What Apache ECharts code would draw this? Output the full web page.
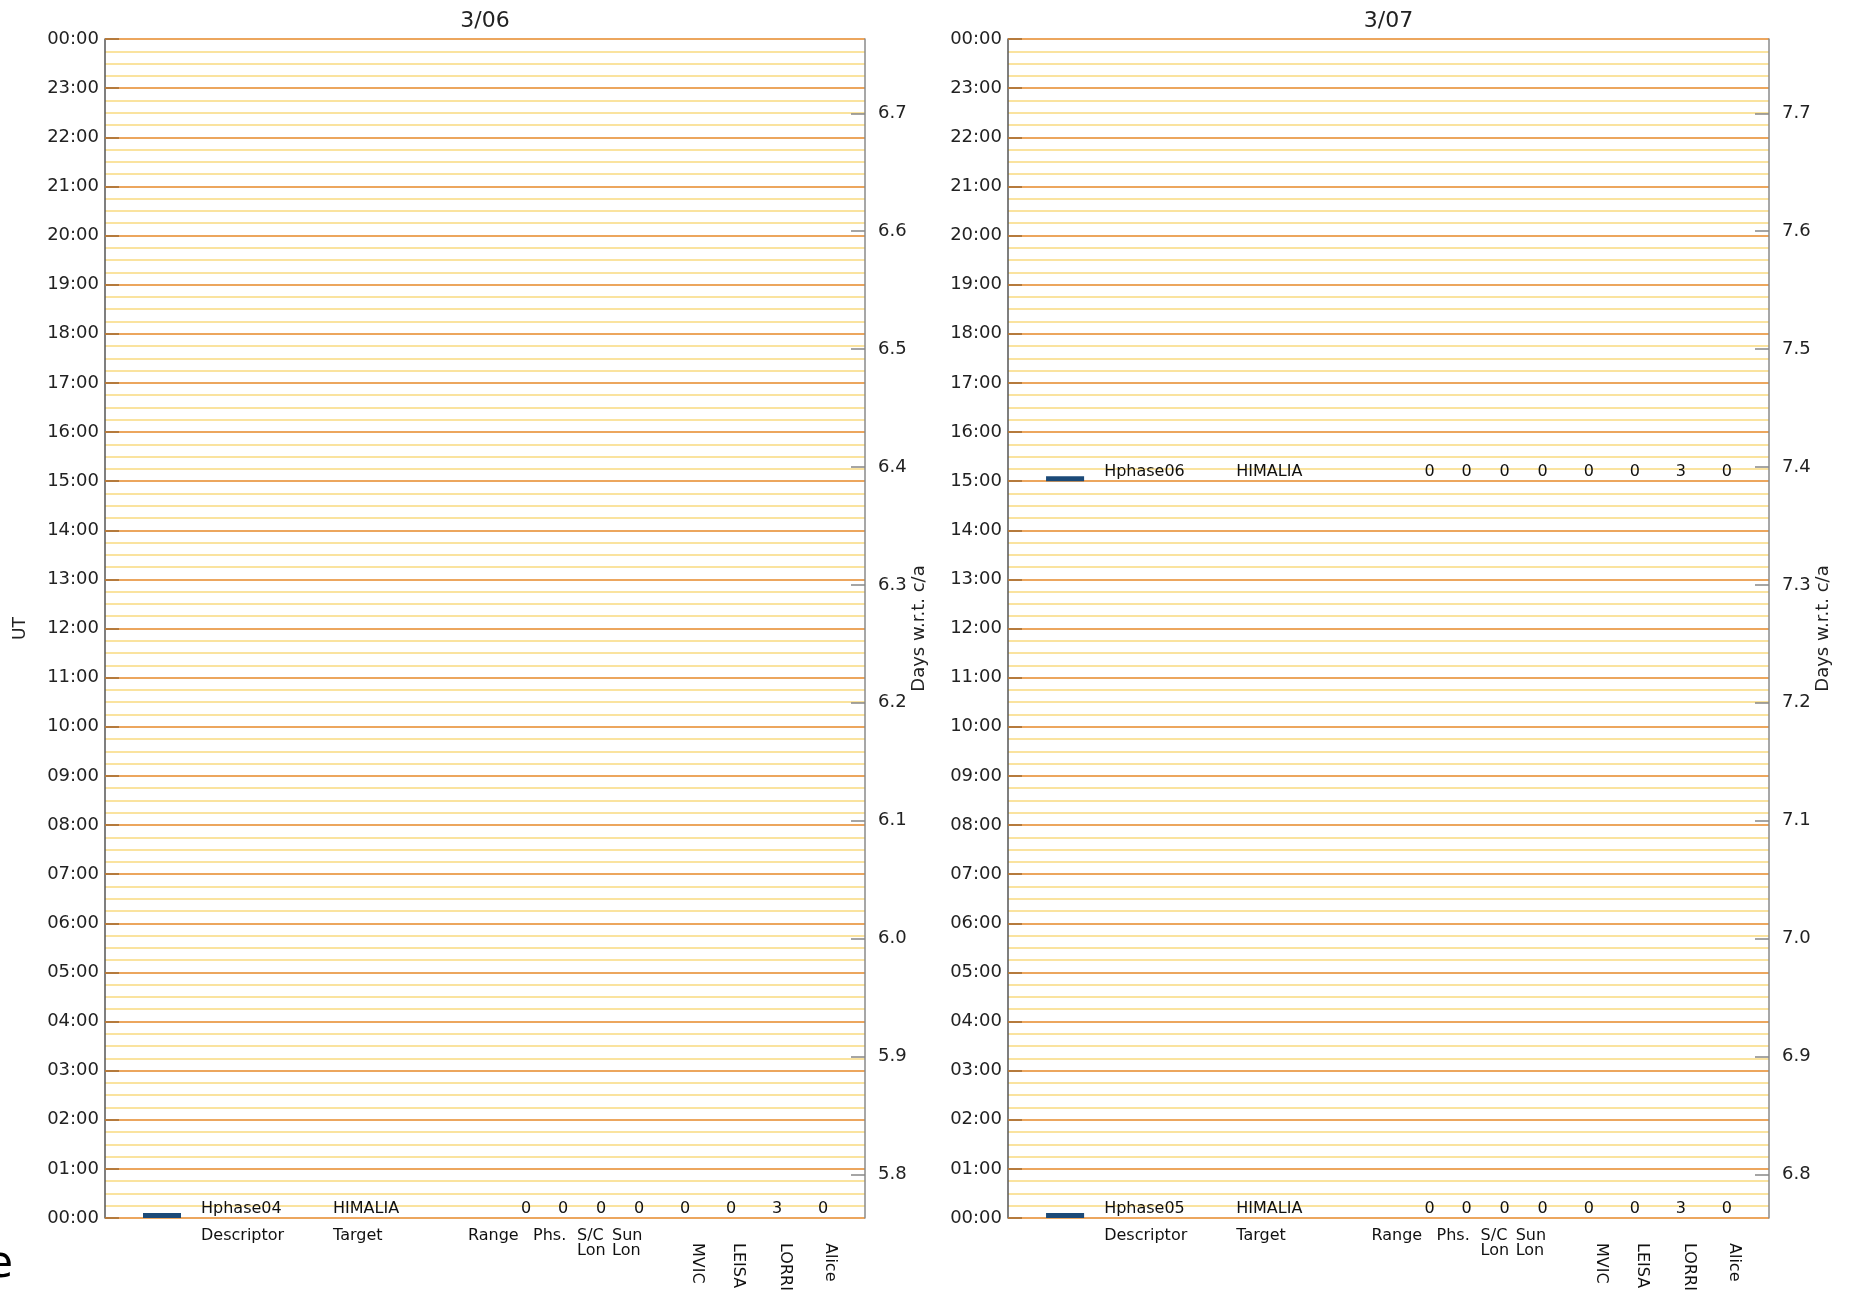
<!DOCTYPE html>
<html>
<head>
<meta charset="utf-8">
<script src="https://cdn.jsdelivr.net/npm/echarts@6/dist/echarts.min.js"></script>
<style>
  html, body { margin: 0; padding: 0; background: #fff; }
  #chart { width: 1849px; height: 1295px; }
</style>
</head>
<body>
<div id="chart"></div>
<script>
// one panel per UT day
const panelDates = ['3/06', '3/07']
// days w.r.t. closest approach at 00:00 UT of each panel
const dayAtStart = [5.763, 6.763]
const dayTicks = [
  [5.8, 5.9, 6.0, 6.1, 6.2, 6.3, 6.4, 6.5, 6.6, 6.7],
  [6.8, 6.9, 7.0, 7.1, 7.2, 7.3, 7.4, 7.5, 7.6, 7.7]
]

// table columns (x in column units across the panel, 0..760)
const headers = ['Descriptor', 'Target', 'Range', 'Phs.', 'S/C\nLon', 'Sun\nLon']
const headerX = [96, 228, 363, 428, 472, 507]
const instruments = ['MVIC', 'LEISA', 'LORRI', 'Alice']
const instrumentX = [592, 633, 680, 725]
const valueX = [421, 458, 496, 534, 580, 626, 672, 718]
const barX = [38, 76]

// observations
const obsPanel = [0, 1, 1]
const obsTime = [0, 0, 15]
const obsDuration = [0.1, 0.1, 0.1]
const obsDescriptor = ['Hphase04', 'Hphase05', 'Hphase06']
const obsTarget = ['HIMALIA', 'HIMALIA', 'HIMALIA']
const obsValues = [
  [0, 0, 0, 0, 0, 0, 3, 0],
  [0, 0, 0, 0, 0, 0, 3, 0],
  [0, 0, 0, 0, 0, 0, 3, 0]
]

const gridPos = [
  { left: 105, width: 760 },
  { left: 1008, width: 761 }
]
const FONT = 'DejaVu Sans, sans-serif'

function pad(n) {
  return (n < 10 ? '0' : '') + n
}

const chart = echarts.init(document.getElementById('chart'), null, { renderer: 'canvas' })

const grid = []
const xAxis = []
const yAxis = []
const series = []
const title = []

panelDates.forEach((date, p) => {
  grid.push({ left: gridPos[p].left, width: gridPos[p].width, top: 39, height: 1179 })

  title.push({
    text: date,
    left: gridPos[p].left + gridPos[p].width / 2,
    top: 10,
    padding: 0,
    textAlign: 'center',
    textStyle: { fontFamily: FONT, fontSize: 22, fontWeight: 'normal', color: '#222' }
  })

  // horizontal column headers
  xAxis.push({
    type: 'value', gridIndex: p, min: 0, max: 760, position: 'bottom',
    axisLine: { show: false, onZero: false }, axisTick: { show: false }, splitLine: { show: false },
    axisLabel: {
      customValues: headerX,
      formatter: (v) => headers[headerX.indexOf(v)] || '',
      align: 'left', verticalAlign: 'top', margin: 10, lineHeight: 15,
      fontFamily: FONT, fontSize: 16, color: '#111'
    }
  })
  // rotated instrument headers
  xAxis.push({
    type: 'value', gridIndex: p, min: 0, max: 760, position: 'bottom',
    axisLine: { show: false, onZero: false }, axisTick: { show: false }, splitLine: { show: false },
    axisLabel: {
      customValues: instrumentX,
      formatter: (v) => instruments[instrumentX.indexOf(v)] || '',
      rotate: -90, margin: 25,
      fontFamily: FONT, fontSize: 16, color: '#111'
    }
  })

  // UT hours
  yAxis.push({
    type: 'value', gridIndex: p, min: 0, max: 24, interval: 1, position: 'left',
    name: p === 0 ? 'UT' : '', nameLocation: 'middle', nameGap: 76, nameRotate: 90,
    nameTextStyle: { fontFamily: FONT, fontSize: 17, color: '#222' },
    axisLine: { show: true, onZero: false, lineStyle: { color: '#555', width: 1.5 } },
    axisTick: { show: true, inside: true, length: 14, lineStyle: { color: '#b57a3c', width: 2 } },
    axisLabel: {
      margin: 6, fontFamily: FONT, fontSize: 18, color: '#222',
      formatter: (v) => pad(v % 24) + ':00'
    },
    splitLine: { show: true, lineStyle: { color: '#eca65e', width: 2 } },
    minorTick: { show: false, splitNumber: 4 },
    minorSplitLine: { show: true, lineStyle: { color: '#f9da80', width: 1.5 } }
  })

  // days w.r.t. closest approach
  yAxis.push({
    type: 'value', gridIndex: p, min: dayAtStart[p], max: dayAtStart[p] + 1, position: 'right',
    name: 'Days w.r.t. c/a', nameLocation: 'middle', nameGap: 42, nameRotate: 90,
    nameTextStyle: { fontFamily: FONT, fontSize: 18, color: '#222' },
    axisLine: { show: true, onZero: false, lineStyle: { color: '#8a8a8a', width: 1.5 } },
    axisTick: { show: true, inside: true, length: 14, customValues: dayTicks[p], lineStyle: { color: '#888', width: 1.5 } },
    axisLabel: {
      customValues: dayTicks[p], margin: 13,
      fontFamily: FONT, fontSize: 18, color: '#222',
      formatter: (v) => v.toFixed(1)
    },
    splitLine: { show: false }
  })

  const data = []
  obsTime.forEach((t, i) => {
    if (obsPanel[i] === p) data.push([t, i])
  })

  series.push({
    type: 'custom',
    xAxisIndex: 2 * p,
    yAxisIndex: 2 * p,
    data: data,
    renderItem: (params, api) => {
      const t = api.value(0)
      const i = api.value(1)
      const a = api.coord([barX[0], t + obsDuration[i]])
      const b = api.coord([barX[1], t])
      const base = api.coord([0, t])[1]
      const txt = (x, s, align) => {
        const c = api.coord([x, t])
        return {
          type: 'text',
          style: {
            x: c[0], y: base - 1, text: s, align: align, verticalAlign: 'bottom',
            fill: '#111', font: '16px ' + FONT
          }
        }
      }
      const children = [
        { type: 'rect', shape: { x: a[0], y: a[1], width: b[0] - a[0], height: b[1] - a[1] }, style: { fill: '#1b4a78' } },
        txt(headerX[0], obsDescriptor[i], 'left'),
        txt(headerX[1], obsTarget[i], 'left')
      ]
      obsValues[i].forEach((v, k) => children.push(txt(valueX[k], String(v), 'center')))
      return { type: 'group', children: children }
    }
  })
})

chart.setOption({
  backgroundColor: '#ffffff',
  animation: false,
  title: title.concat([{
    text: 'e', left: -14, top: 1244, padding: 0,
    textStyle: { fontFamily: 'DejaVu Sans', fontSize: 44, fontWeight: 'normal', color: '#000' }
  }]),
  grid: grid,
  xAxis: xAxis,
  yAxis: yAxis,
  series: series
})
</script>
</body>
</html>
